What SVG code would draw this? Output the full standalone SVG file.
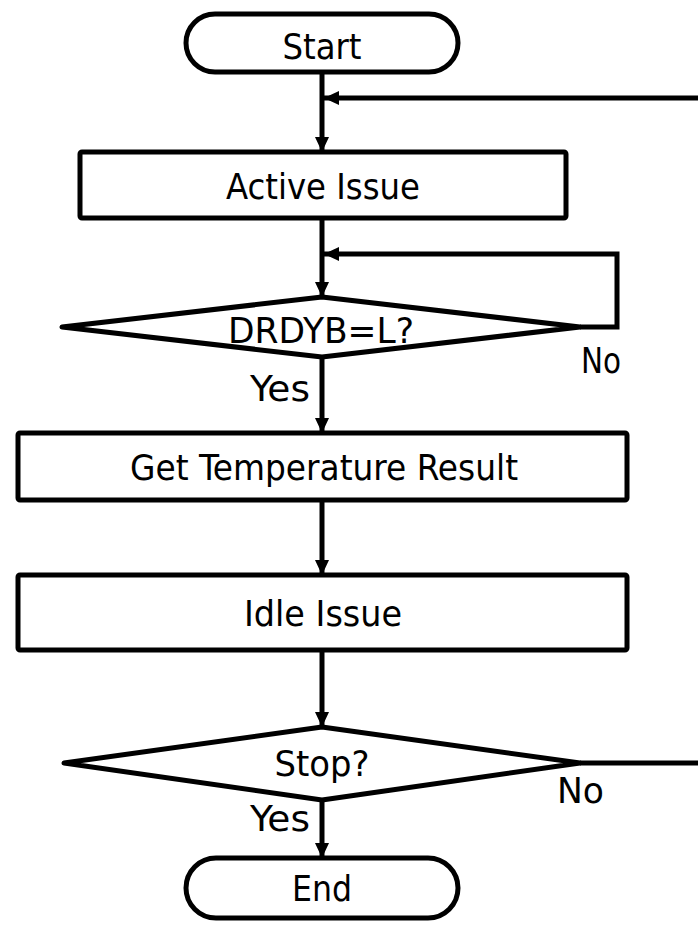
<svg xmlns="http://www.w3.org/2000/svg" width="698" height="937" viewBox="0 0 698 937">
<style>
.shape{fill:#fff;stroke:#000;stroke-width:5;stroke-linejoin:round}
.conn{fill:none;stroke:#000;stroke-width:5}
.lbl{font-family:"DejaVu Sans Condensed","DejaVu Sans",sans-serif;font-stretch:condensed;font-size:35px;fill:#000}
.mid{text-anchor:middle}
</style>
<defs>
<marker id="arr" markerUnits="userSpaceOnUse" markerWidth="16" markerHeight="14" refX="15" refY="7" orient="auto">
<path d="M0,0 L15,7 L0,14 z" fill="#000"/>
</marker>
</defs>
<g id="connectors">
<path class="conn" d="M322,72 V152" marker-end="url(#arr)"/>
<path class="conn" d="M698,98 H324" marker-end="url(#arr)"/>
<path class="conn" d="M322,218 V297" marker-end="url(#arr)"/>
<path class="conn" d="M580,327 H617 V254 H324" marker-end="url(#arr)"/>
<path class="conn" d="M322,357 V433" marker-end="url(#arr)"/>
<path class="conn" d="M322,500 V575" marker-end="url(#arr)"/>
<path class="conn" d="M322,650 V727" marker-end="url(#arr)"/>
<path class="conn" d="M322,800 V858" marker-end="url(#arr)"/>
<path class="conn" d="M580,763 H698"/>
<text class="lbl" x="581" y="373" textLength="40" lengthAdjust="spacingAndGlyphs">No</text>
<text class="lbl" x="250" y="401" textLength="60" lengthAdjust="spacingAndGlyphs">Yes</text>
<text class="lbl" x="557" y="803" textLength="47" lengthAdjust="spacingAndGlyphs">No</text>
<text class="lbl" x="250" y="831" textLength="60" lengthAdjust="spacingAndGlyphs">Yes</text>
</g>
<g id="start">
<rect class="shape" x="186" y="14" width="272" height="58" rx="29"/>
<text class="lbl mid" x="322" y="59" textLength="79" lengthAdjust="spacingAndGlyphs">Start</text>
</g>
<g id="active">
<rect class="shape" x="80" y="152" width="486" height="66" rx="2"/>
<text class="lbl mid" x="323" y="199" textLength="194" lengthAdjust="spacingAndGlyphs">Active Issue</text>
</g>
<g id="drdyb">
<polygon class="shape" points="62,327 322,297 580,327 322,357"/>
<text class="lbl mid" x="321" y="343" textLength="186" lengthAdjust="spacingAndGlyphs">DRDYB=L?</text>
</g>
<g id="gettemp">
<rect class="shape" x="18" y="433" width="609" height="67" rx="2"/>
<text class="lbl mid" x="324" y="480" textLength="388" lengthAdjust="spacingAndGlyphs">Get Temperature Result</text>
</g>
<g id="idle">
<rect class="shape" x="18" y="575" width="609" height="75" rx="2"/>
<text class="lbl mid" x="323" y="626" textLength="158" lengthAdjust="spacingAndGlyphs">Idle Issue</text>
</g>
<g id="stop">
<polygon class="shape" points="64,763 322,727 580,763 322,800"/>
<text class="lbl mid" x="322" y="776" textLength="95" lengthAdjust="spacingAndGlyphs">Stop?</text>
</g>
<g id="end">
<rect class="shape" x="186" y="858" width="272" height="60" rx="30"/>
<text class="lbl mid" x="322" y="901" textLength="60" lengthAdjust="spacingAndGlyphs">End</text>
</g>
</svg>
